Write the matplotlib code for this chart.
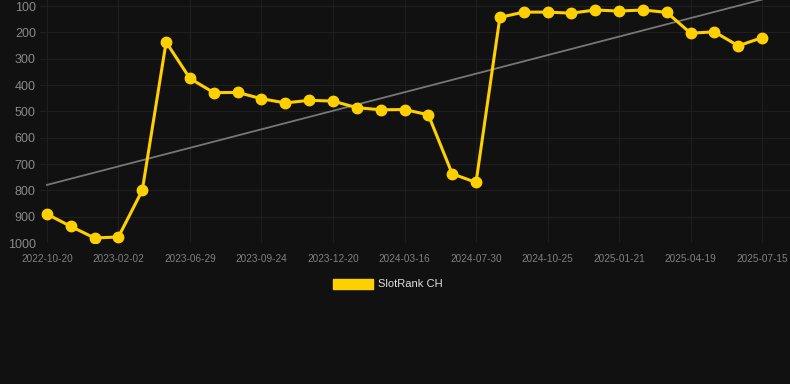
import numpy as np
import matplotlib.pyplot as plt
from matplotlib.patches import Patch

# rank values, one per snapshot (lower is better)
ranks = [890, 937, 981, 977, 800, 237, 375, 429, 428, 452, 468, 458, 461,
         486, 494, 493, 513, 737, 770, 143, 123, 123, 127, 115, 119, 115,
         124, 203, 198, 251, 220]
tick_labels = ['2022-10-20', '2023-02-02', '2023-06-29', '2023-09-24',
               '2023-12-20', '2024-03-16', '2024-07-30', '2024-10-25',
               '2025-01-21', '2025-04-19', '2025-07-15']
y_ticks = [100, 200, 300, 400, 500, 600, 700, 800, 900, 1000]
series_name = 'SlotRank CH'

BG = '#111111'
YELLOW = '#FFD000'

plt.rcParams['font.family'] = ['Liberation Sans', 'DejaVu Sans']

fig = plt.figure(figsize=(7.9, 3.84), dpi=100)
fig.patch.set_facecolor(BG)
ax = fig.add_axes([40 / 790, 1 - 243 / 384, 750 / 790, 243 / 384])
ax.set_facecolor(BG)

x = np.arange(len(ranks))

# linear trend of the series
k, b = np.polyfit(x, ranks, 1)
ax.plot(x, k * x + b, color='#777777', linewidth=1.3, zorder=2)

ax.plot(x, ranks, color=YELLOW, linewidth=2.2, marker='o',
        markersize=7.5, zorder=3)

ax.set_xlim(-0.29, 31.17)
ax.set_ylim(1000, 77)
ax.set_yticks(y_ticks)
ax.set_xticks(x[::3])
ax.set_xticklabels(tick_labels)

ax.grid(True, color='#1f1f1f', linewidth=0.8)
ax.set_axisbelow(True)
for s in ax.spines.values():
    s.set_visible(False)
ax.tick_params(axis='y', length=0, pad=3, labelsize=9, labelcolor='#8a8a8a')
ax.tick_params(axis='x', length=0, pad=8, labelsize=7.2, labelcolor='#808080')

fig.legend(handles=[Patch(facecolor=YELLOW, edgecolor=YELLOW, label=series_name)],
           loc='center', bbox_to_anchor=(388 / 790, 1 - 284 / 384),
           frameon=False, fontsize=8, labelcolor='#e0e0e0',
           handlelength=3.6, handleheight=1.0, handletextpad=0.5)

fig.savefig('out.png', dpi=100, facecolor=BG)
